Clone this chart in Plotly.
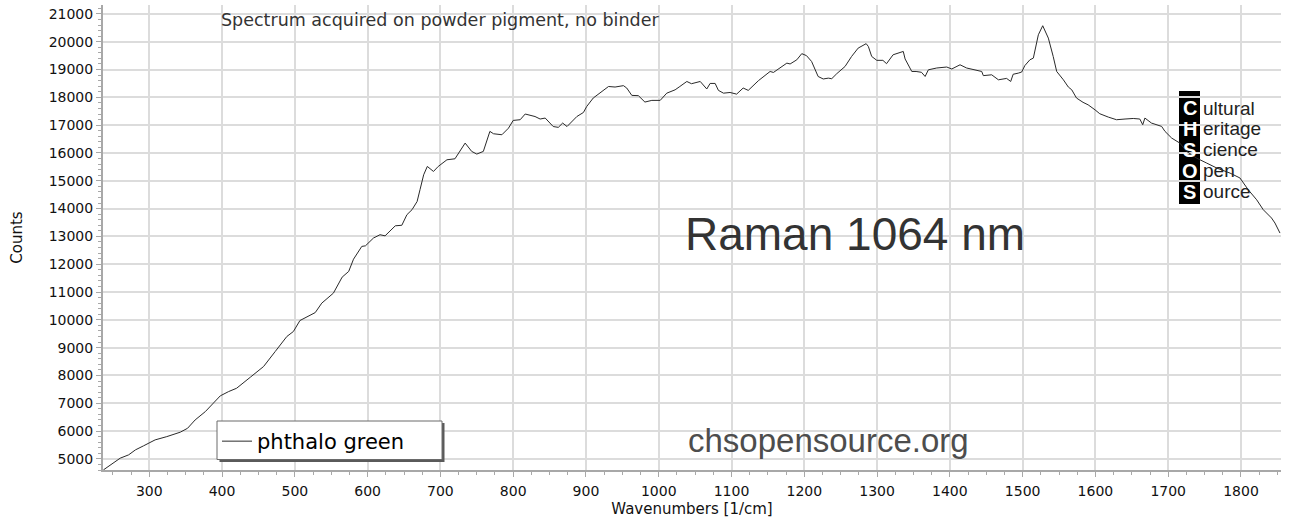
import plotly.graph_objects as go

# ---- data ----
wavenumbers = [237, 248.8, 260, 271.6, 281, 292, 308, 324, 342.6, 352.6, 363, 377, 388, 397.5,
               409, 420, 439, 457, 473, 489, 498, 507, 528, 537, 553, 565, 574, 580.6, 592,
               597, 608, 617, 624, 631, 638, 647, 654, 661, 668, 672, 677, 682, 690.5, 697,
               709, 720, 734, 743, 750, 759, 768, 773, 784.5, 793.5, 800, 809.6, 816.5, 830,
               837, 844, 855, 862, 868, 874, 887.5, 896.5, 901, 910, 919.5, 931, 940, 951.5,
               956, 963, 972, 981, 990.5, 1002, 1011, 1022.5, 1029, 1038.6, 1045, 1057, 1066,
               1070.6, 1077.5, 1082, 1089, 1098, 1107, 1116, 1123, 1137, 1153, 1157.6, 1176,
               1180.5, 1189.7, 1196.5, 1203, 1210, 1219, 1226, 1233, 1237.7, 1244.6, 1256,
               1265, 1274, 1285, 1288, 1292.6, 1299.6, 1308, 1313, 1322, 1330.7, 1336, 1338.5,
               1347.7, 1353.6, 1361, 1366, 1370.5, 1382, 1395.7, 1402.6, 1414, 1423, 1432,
               1443.8, 1446, 1457.5, 1466.7, 1478, 1483.6, 1487, 1494, 1498.7, 1503, 1510,
               1514.7, 1517, 1521.6, 1527.6, 1535.3, 1542, 1546.8, 1556, 1562.8, 1567.5, 1574,
               1583, 1590, 1599.5, 1606, 1617.7, 1629, 1640.7, 1652, 1661, 1665, 1668, 1677,
               1691, 1695.6, 1704.8, 1716, 1725.4, 1739, 1753, 1767, 1785, 1798.6, 1810,
               1821.6, 1830.6, 1842, 1846.7, 1853.6]
counts = [4604, 4820, 5025, 5144, 5324, 5468, 5683, 5800, 5960, 6100, 6400, 6700, 7025, 7266,
          7420, 7540, 7940, 8320, 8860, 9400, 9580, 9975, 10260, 10600, 10960, 11535, 11740,
          12180, 12640, 12660, 12940, 13060, 13020, 13200, 13380, 13400, 13780, 13960, 14255,
          14680, 15215, 15515, 15335, 15515, 15755, 15790, 16355, 16055, 15960, 16055, 16775,
          16690, 16655, 16890, 17170, 17195, 17400, 17310, 17220, 17255, 16950, 16920, 17075,
          16950, 17310, 17455, 17670, 17975, 18150, 18390, 18370, 18420, 18335, 18070, 18060,
          17830, 17890, 17890, 18150, 18270, 18390, 18570, 18490, 18570, 18300, 18500, 18500,
          18250, 18150, 18175, 18115, 18335, 18250, 18600, 18930, 18895, 19230, 19200, 19350,
          19570, 19500, 19290, 18750, 18660, 18690, 18670, 18850, 19110, 19470, 19770, 19930,
          19830, 19470, 19330, 19330, 19210, 19530, 19590, 19650, 19380, 18930, 18930, 18900,
          18750, 18990, 19055, 19090, 19020, 19170, 19055, 18990, 18930, 18780, 18810, 18630,
          18680, 18570, 18830, 18870, 18910, 19140, 19350, 19410, 19710, 20250, 20575, 20130,
          19470, 18930, 18630, 18370, 18270, 17975, 17820, 17730, 17550, 17410, 17290, 17195,
          17220, 17240, 17220, 17015, 17255, 17075, 16955, 16775, 16535, 16355, 16055, 15815,
          15635, 15455, 15275, 15100, 14675, 14315, 13960, 13660, 13480, 13120]
series_name = "phthalo green"
x_title = "Wavenumbers [1/cm]"
y_title = "Counts"
note_text = "Spectrum acquired on powder pigment, no binder"
big_title = "Raman 1064 nm"
site_text = "chsopensource.org"
logo_letters = ["C", "H", "S", "O", "S"]
logo_words = ["ultural", "eritage", "cience", "pen", "ource"]

# ---- layout geometry (pixels) ----
W, H = 1293, 524
L, R, T, B = 103, 1281, 5, 470


def px(xp):
    return (xp - L) / (R - L)


def py(yp):
    return (B - yp) / (B - T)


fig = go.Figure()
fig.add_trace(go.Scatter(x=wavenumbers, y=counts, mode="lines", name=series_name,
                         line=dict(color="#2a2a2a", width=1), showlegend=True))

axis_common = dict(showgrid=True, gridcolor="#dcdcdc", gridwidth=2, showline=True,
                   linecolor="#a8a8a8", linewidth=2, ticks="outside", ticklen=5,
                   tickcolor="#a8a8a8", tickwidth=1, zeroline=False,
                   tickfont=dict(family="DejaVu Sans", size=14, color="#111"))

fig.update_xaxes(range=[236.4, 1855], dtick=100, tick0=0, ticklabelstandoff=2,
                 minor=dict(dtick=25, ticks="outside", ticklen=3, tickcolor="#a8a8a8", showgrid=False),
                 title=dict(text=x_title, font=dict(family="DejaVu Sans", size=15, color="#111"), standoff=6),
                 **axis_common)
fig.update_yaxes(range=[4600, 21320], dtick=1000, tick0=0, tickformat="d",
                 minor=dict(dtick=200, ticks="outside", ticklen=3, tickcolor="#a8a8a8", showgrid=False),
                 title=dict(text=y_title, font=dict(family="DejaVu Sans", size=15, color="#111"), standoff=22),
                 **axis_common)

shapes = []
# legend shadow + frame
shapes.append(dict(type="rect", xref="paper", yref="paper", layer="above",
                   x0=px(219.5), x1=px(444.5), y0=py(462), y1=py(423),
                   fillcolor="#5a5a5a", line=dict(width=0)))
shapes.append(dict(type="rect", xref="paper", yref="paper", layer="above",
                   x0=px(217), x1=px(442), y0=py(459.5), y1=py(421),
                   fillcolor="white", line=dict(color="#6a6a6a", width=1)))
# logo: black bar + white backing behind words
shapes.append(dict(type="rect", xref="paper", yref="paper", layer="between",
                   x0=px(1179), x1=px(1200), y0=py(204), y1=py(91),
                   fillcolor="black", line=dict(width=0)))
row_bounds = [(91, 119, 1257), (119, 140, 1262), (140, 160.5, 1259), (160.5, 181.5, 1234), (181.5, 204, 1251)]
for (y0p, y1p, xe) in row_bounds:
    shapes.append(dict(type="rect", xref="paper", yref="paper", layer="between",
                       x0=px(1200), x1=px(xe), y0=py(y1p), y1=py(y0p),
                       fillcolor="white", line=dict(width=0)))

annotations = []
annotations.append(dict(text=note_text, xref="paper", yref="paper", x=px(219), y=py(20.5),
                        xanchor="left", yanchor="middle", showarrow=False,
                        font=dict(family="DejaVu Sans", size=17.5, color="#333")))
annotations.append(dict(text=big_title, xref="paper", yref="paper", x=px(683), y=py(234),
                        xanchor="left", yanchor="middle", showarrow=False,
                        font=dict(family="Liberation Sans", size=46, color="#333")))
annotations.append(dict(text=site_text, xref="paper", yref="paper", x=px(686), y=py(440),
                        xanchor="left", yanchor="middle", showarrow=False,
                        font=dict(family="Liberation Sans", size=33, color="#4d4d4d")))
row_centers = [108.0, 128.9, 149.8, 170.7, 191.6]
for letter, word, yc in zip(logo_letters, logo_words, row_centers):
    annotations.append(dict(text="<b>" + letter + "</b>", xref="paper", yref="paper",
                            x=px(1189.5), y=py(yc), xanchor="center", yanchor="middle",
                            showarrow=False, borderpad=0,
                            font=dict(family="Liberation Sans", size=20, color="white")))
    annotations.append(dict(text=word, xref="paper", yref="paper",
                            x=px(1202), y=py(yc), xanchor="left", yanchor="middle",
                            showarrow=False, borderpad=0,
                            font=dict(family="Liberation Sans", size=19, color="#222")))

fig.update_layout(
    width=W, height=H,
    margin=dict(l=L, r=W - R, t=T, b=H - B, pad=0),
    paper_bgcolor="white", plot_bgcolor="white",
    showlegend=True,
    legend=dict(x=px(217), y=py(421), xanchor="left", yanchor="top",
                bgcolor="rgba(0,0,0,0)", borderwidth=0,
                font=dict(family="DejaVu Sans", size=21, color="#000")),
    shapes=shapes, annotations=annotations,
)

fig.write_html("out.html", config={"displayModeBar": False},
               post_script="document.body.style.margin='0px';")
